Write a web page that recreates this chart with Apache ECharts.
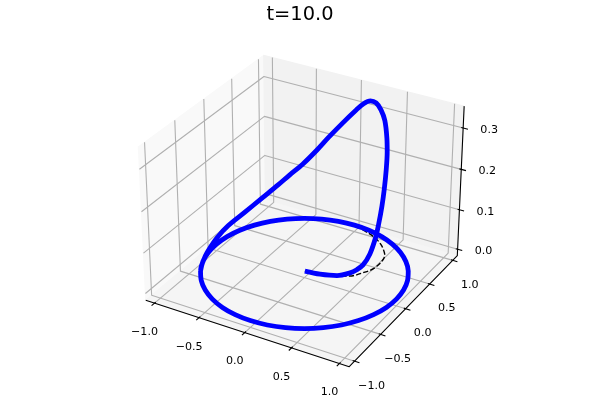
<!DOCTYPE html>
<html>
<head>
<meta charset="utf-8">
<style>html,body{margin:0;padding:0;background:#fff}#c{width:600px;height:400px}</style>
<script src="https://cdn.jsdelivr.net/npm/echarts@6/dist/echarts.min.js"></script>
</head>
<body>
<div id="c"></div>
<script>
// ---------- data ----------
const titleText = 't=10.0';
const xTicks = [-1.0, -0.5, 0.0, 0.5, 1.0];
const yTicks = [-1.0, -0.5, 0.0, 0.5, 1.0];
const zTicks = [0.0, 0.1, 0.2, 0.3];
const pathX = [.005,.159,.316,.425,.47,.504,.54,.56,.565,.565,.56,.55,.53,.50,.43,.35,.27,.19,.10,.01,-.139,-.276,-.391,-.515,-.623,-.707,-.819,-.914,-.982,-1,-.99,-.961,
  -.866,-.766,-.643,-.5,-.342,-.174,0,.174,.342,.5,.643,.766,.866,.94,.985,1,.985,.94,.866,.766,.643,.5,.342,.174,0,
  -.174,-.342,-.5,-.643,-.766,-.866,-.94,-.985,-1,-.985,-.94,-.866];
const pathY = [0,.025,.078,.139,.19,.252,.32,.39,.44,.50,.55,.60,.65,.695,.78,.85,.90,.935,.965,.985,.99,.961,.921,.857,.783,.707,.574,.407,.191,.017,-.139,-.276,
  -.5,-.643,-.766,-.866,-.94,-.985,-1,-.985,-.94,-.866,-.766,-.643,-.5,-.342,-.174,0,.174,.342,.5,.643,.766,.866,.94,.985,1,
  .985,.94,.866,.766,.643,.5,.342,.174,0,-.174,-.342,-.5];
const pathZ = [0,0,.001,.008,.013,.02,.042,.075,.104,.142,.178,.219,.255,.282,.311,.325,.332,.329,.314,.2915,.251,.211,.175,.139,.1128,.0915,.0645,.0415,.026,.015,.006,.001,
  0,0,0,0,0,0,0,0,0,0,0,0,0,0,0,0,0,0,0,0,0,0,0,0,0,
  0,0,0,0,0,0,0,0,0,0,0,0];
const limXY = 1.1;
const limZ = [-0.0168, 0.352];

// ---------- 3D view (elev 30, azim -60, box 4:4:3) ----------
const elev = 30 * Math.PI / 180, azim = -60 * Math.PI / 180, dist = 10;
const boxA = 1.1905, boxB = 0.8929, viewScale = 1958, cx = 304.4, cy = 203.5;
const n = [Math.cos(elev)*Math.cos(azim), Math.cos(elev)*Math.sin(azim), Math.sin(elev)];
const u = [-Math.sin(azim), Math.cos(azim), 0];
const v = [n[1]*u[2]-n[2]*u[1], n[2]*u[0]-n[0]*u[2], n[0]*u[1]-n[1]*u[0]];
function project(x, y, z) {
  const p = [x / (2*limXY) * boxA, y / (2*limXY) * boxA,
    (z - (limZ[0]+limZ[1])/2) / (limZ[1]-limZ[0]) * boxB];
  const dot = a => a[0]*p[0]+a[1]*p[1]+a[2]*p[2];
  const w = dist - dot(n);
  return [cx + viewScale*dot(u)/w, cy - viewScale*dot(v)/w];
}

const L = limXY, Z0 = limZ[0], Z1 = limZ[1];
const series = [];
function pane(points, color) {
  series.push({
    type: 'custom', coordinateSystem: 'cartesian2d', silent: true, z: 1,
    data: points,
    renderItem: function (params, api) {
      if (params.dataIndex !== 0) return null;
      return {
        type: 'polygon',
        shape: { points: points.map(q => api.coord(q)) },
        style: { fill: color, stroke: color, lineWidth: 1 }
      };
    }
  });
}
pane([project(-L,-L,Z0), project(-L,L,Z0), project(-L,L,Z1), project(-L,-L,Z1)], '#f9f9f9');
pane([project(-L,L,Z0), project(L,L,Z0), project(L,L,Z1), project(-L,L,Z1)], '#f2f2f2');
pane([project(-L,-L,Z0), project(L,-L,Z0), project(L,L,Z0), project(-L,L,Z0)], '#f5f5f5');

function line(points, color, width, z, extra) {
  series.push(Object.assign({
    type: 'line', data: points, showSymbol: false, symbol: 'none', silent: true, z: z,
    clip: false, animation: false,
    lineStyle: { color: color, width: width, cap: 'butt', join: 'round' }
  }, extra || {}));
}
const gridColor = '#b0b0b0', gw = 1.1;
xTicks.forEach(t => line([project(t,-L,Z0), project(t,L,Z0), project(t,L,Z1)], gridColor, gw, 2));
yTicks.forEach(t => line([project(L,t,Z0), project(-L,t,Z0), project(-L,t,Z1)], gridColor, gw, 2));
zTicks.forEach(t => line([project(-L,-L,t), project(-L,L,t), project(L,L,t)], gridColor, gw, 2));

// axis lines and tick marks
line([project(-L,-L,Z0), project(L,-L,Z0), project(L,L,Z0), project(L,L,Z1)], '#000', 1.1, 3);
const tickIn = 0.02, tickOut = 0.05;
xTicks.forEach(t => line([project(t,-L+tickIn,Z0), project(t,-L-tickOut,Z0)], '#000', 1.1, 3));
yTicks.forEach(t => line([project(L-tickIn,t,Z0), project(L+tickOut,t,Z0)], '#000', 1.1, 3));
zTicks.forEach(t => line([project(L-tickIn,L,t), project(L+tickOut,L,t)], '#000', 1.1, 3));

// curve and its shadow on z=0
const shadow = pathX.map((x,i) => project(x, pathY[i], 0));
const path = pathX.map((x,i) => project(x, pathY[i], pathZ[i]));
line(shadow, '#000', 1.4, 4, { smooth: 0.33, lineStyle: { color:'#000', width:1.4, type:[5.2,2.2] } });
line(path, '#0000ff', 4.8, 5, { smooth: 0.33, lineStyle: { color:'#0000ff', width:4.8, cap:'butt', join:'round' } });

// tick labels
const fmt = t => t.toFixed(1).replace('-', '\u2212');
const labelData = [];
xTicks.forEach(t => { const q = project(t,-L,Z0); labelData.push([q[0]-10, q[1]+29, fmt(t)]); });
yTicks.forEach(t => { const q = project(L,t,Z0); labelData.push([q[0]+17, q[1]+24.5, fmt(t)]); });
zTicks.forEach(t => { const q = project(L,L,t); labelData.push([q[0]+26, q[1]+2, fmt(t)]); });
series.push({
  type: 'custom', coordinateSystem: 'cartesian2d', silent: true, z: 6,
  data: labelData,
  renderItem: function (params, api) {
    const c = api.coord([api.value(0), api.value(1)]);
    return {
      type: 'text', x: c[0], y: c[1],
      style: { text: labelData[params.dataIndex][2], fill: '#000',
        font: '11.1px "DejaVu Sans"', textAlign: 'center', textVerticalAlign: 'middle' }
    };
  }
});

const chart = echarts.init(document.getElementById('c'), null, { renderer: 'canvas' });
chart.setOption({
  animation: false,
  backgroundColor: '#fff',
  title: {
    text: titleText, left: 'center', top: 0,
    textStyle: { fontFamily: 'DejaVu Sans', fontSize: 19.4, fontWeight: 'normal', color: '#000' }
  },
  grid: { left: 0, right: 0, top: 0, bottom: 0 },
  xAxis: { type: 'value', min: 0, max: 600, show: false },
  yAxis: { type: 'value', min: 0, max: 400, inverse: true, show: false },
  series: series
});
</script>
</body>
</html>
